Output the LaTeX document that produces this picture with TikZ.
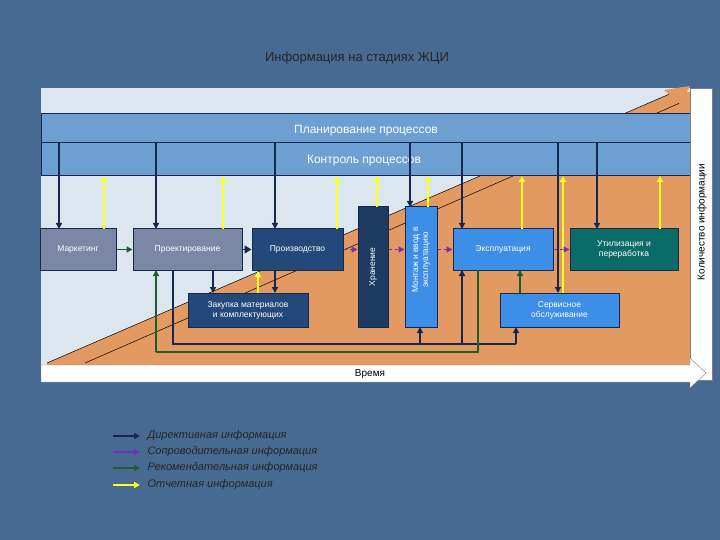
\documentclass[tikz,border=0pt]{standalone}
\usepackage{fontspec}
\setmainfont{Liberation Sans}
\usetikzlibrary{arrows.meta,shapes.arrows}
\definecolor{bg}{HTML}{466A92}
\definecolor{panel}{HTML}{DCE6EE}
\definecolor{orng}{HTML}{E39A62}
\definecolor{bar}{HTML}{6E9FD2}
\definecolor{navy}{HTML}{16284F}
\definecolor{grayb}{HTML}{7A88A6}
\definecolor{dblue}{HTML}{23497A}
\definecolor{lblue}{HTML}{3D8EE6}
\definecolor{teal1}{HTML}{0B6B68}
\definecolor{purp}{HTML}{7A2FB0}
\definecolor{grn}{HTML}{1E5E2E}
\definecolor{yel}{HTML}{FFFF20}
\tikzset{
 box/.style={draw=navy,line width=1pt,text=white,font=\fontsize{8.5}{10}\selectfont,align=center,inner sep=1pt},
 dn/.style={navy,line width=1.4pt,-{Triangle[length=6pt,width=6pt]}},
 up/.style={yel,line width=1.6pt,-{Triangle[length=6pt,width=6pt]}},
 pu/.style={purp,line width=1.4pt,dashed,-{Triangle[length=6pt,width=6pt]}},
 gr/.style={grn,line width=1.4pt,-{Triangle[length=6pt,width=6pt]}},
}
\begin{document}
\begin{tikzpicture}[x=1pt,y=-1pt]
\useasboundingbox (0,0) rectangle (720,540);
\fill[bg] (0,0) rectangle (720,540);
\node[font=\fontsize{13}{15}\selectfont,text=black!85] (title) at (357,58) {Информация на стадиях ЖЦИ};
\fill[panel] (41,88) rectangle (690,365);
\fill[orng] (47,363) -- (672,93) -- (690,92) -- (690,365) -- (47,365) -- cycle;
\draw[black,line width=0.5pt] (47,363) -- (672,93);
\draw[black,line width=0.5pt] (85,363) -- (680,103);
\fill[orng] (664,90) -- (690,86) -- (680,104) -- cycle;
\node[draw=navy,fill=bar,line width=1pt,minimum width=649pt,minimum height=29pt,anchor=north west,inner sep=0pt] (plan) at (41,113) {};
\node[text=white,font=\fontsize{12}{14}\selectfont] at (366,131) {Планирование процессов};
\node[draw=navy,fill=bar,line width=1pt,minimum width=649pt,minimum height=33pt,anchor=north west,inner sep=0pt] (ctrl) at (41,142) {};
\node[text=white,font=\fontsize{12}{14}\selectfont] at (364,161) {Контроль процессов};
\node[draw=gray,fill=white,minimum width=22pt,minimum height=292pt,anchor=north west,inner sep=0pt] (qty) at (690,88) {};
\node[rotate=90,font=\fontsize{10}{12}\selectfont] at (702,222) {Количество информации};
\fill[white,draw=gray] (41,365) -- (690,365) -- (690,358) -- (706,373) -- (690,388) -- (690,382) -- (41,382) -- cycle;
\node[font=\fontsize{10}{12}\selectfont] (time) at (370,374) {Время};
% nodes
\node[box,fill=grayb,minimum width=76pt,minimum height=41pt] (mk) at (78,249.5) {Маркетинг};
\node[box,fill=grayb,minimum width=109pt,minimum height=41pt] (pr) at (187.5,249.5) {Проектирование};
\node[box,fill=dblue,minimum width=91pt,minimum height=41pt] (pd) at (297.5,249.5) {Производство};
\node[box,fill=dblue,minimum width=120pt,minimum height=34pt] (zk) at (248,310) {Закупка материалов\\и комплектующих};
\node[box,fill=dblue!80!black,minimum width=30pt,minimum height=120pt] (hr) at (373,267) {};
\node[rotate=90,text=white,font=\fontsize{8.5}{10}\selectfont] at (373,267) {Хранение};
\node[box,fill=lblue,minimum width=32pt,minimum height=120pt] (mn) at (421,267) {};
\node[rotate=90,text=white,font=\fontsize{8.5}{10}\selectfont,align=center] at (421,260) {Монтаж и ввод в\\эксплуатацию};
\node[box,fill=lblue,minimum width=100pt,minimum height=41pt] (ex) at (503,249.5) {Эксплуатация};
\node[box,fill=teal1,minimum width=108pt,minimum height=41pt] (ut) at (624,249.5) {Утилизация и\\переработка};
\node[box,fill=lblue,minimum width=119pt,minimum height=34pt] (sv) at (559.5,310) {Сервисное\\обслуживание};
% down arrows
\foreach \x in {59,156,275,462,597}
  \draw[dn] (\x,142) -- (\x,229);
\draw[dn] (410,142) -- (410,207);
\draw[dn] (558,142) -- (558,293);
% yellow up
\foreach \x in {104,223,337,522,660}
  \draw[up] (\x,229) -- (\x,176);
\draw[up] (377,207) -- (377,176);
\draw[up] (428,207) -- (428,176);
\draw[up] (563,293) -- (563,176);
\draw[up] (258,293) -- (258,271);
% horizontal
\draw[gr] (mk.east) -- (pr.west);
\draw[navy,line width=1.4pt,-{Triangle[length=7pt,width=8pt]}] (pr.east) -- (pd.west);
\draw[pu] (pd.east) -- (hr.west |- pd.east);
\draw[pu] (hr.east |- pd.east) -- (mn.west |- pd.east);
\draw[pu] (mn.east |- pd.east) -- (ex.west);
\draw[pu] (ex.east) -- (ut.west);
\draw[dn] (213,270) -- (213,293);
\draw[dn] (275,270) -- (275,293);
\draw[gr] (520,293) -- (520,270);
% loops
\draw[navy,line width=1.2pt] (173,270) -- (173,344) -- (516,344);
\draw[dn] (420,344) -- (420,327);
\draw[dn] (462,344) -- (462,270);
\draw[dn] (516,344) -- (516,327);
\draw[grn,line width=1.2pt] (478,270) -- (478,352) -- (156,352);
\draw[gr] (156,352) -- (156,270);
% legend
\foreach \y/\c/\t in {436/navy/Директивная информация,452/purp/Сопроводительная информация,468/grn/Рекомендательная информация,485/yel/Отчетная информация}{
  \draw[\c,line width=1.4pt,-{Triangle[length=6pt,width=6pt]}] (113,\y) -- (140,\y);
  \node[anchor=west,font=\fontsize{11}{13}\selectfont\itshape,text=black!85] at (144,\y) {\t};
}
\end{tikzpicture}
\end{document}
